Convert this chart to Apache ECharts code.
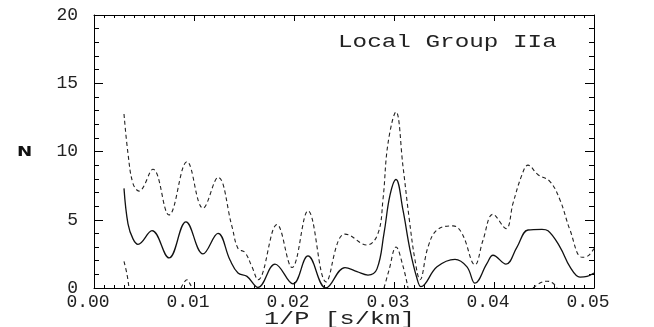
<!DOCTYPE html>
<html><head><meta charset="utf-8">
<script src="https://cdn.jsdelivr.net/npm/echarts@6/dist/echarts.min.js"></script>
<style>html,body{margin:0;padding:0;background:#fff}#c{width:654px;height:327px}</style>
</head><body><div id="c"></div>
<script>
// Mean curve (solid)
const meanX = [0.0030,0.0034,0.0039,0.0044,0.0058,0.0075,0.0092,0.0109,0.0124,0.0136,0.0144,0.0153,0.0164,0.0181,0.0199,0.0214,0.0232,0.0251,0.0263,0.0274,0.0283,0.0290,0.0296,0.0302,0.0309,0.0316,0.0323,0.0327,0.0343,0.0361,0.0373,0.0381,0.0393,0.0399,0.0412,0.0423,0.0434,0.0448,0.0454,0.0466,0.0476,0.0486,0.0493,0.0500];
const meanN = [7.3,4.7,3.6,3.2,4.2,2.2,4.85,2.5,4.0,2.05,1.1,0.85,0.05,1.75,0.3,2.35,0.0,1.5,1.2,0.95,1.4,4.0,6.8,7.95,5.7,2.8,0.7,0.1,1.55,2.1,1.55,0.35,1.8,2.4,1.75,3.0,4.25,4.3,4.2,3.0,1.55,0.8,0.85,1.1];
// Upper bound (dashed)
const upperX = [0.0030,0.0034,0.0039,0.0045,0.0059,0.0075,0.0093,0.0109,0.0124,0.0138,0.0144,0.0151,0.0158,0.0164,0.0183,0.0198,0.0214,0.0232,0.0244,0.0251,0.0273,0.0284,0.0289,0.0294,0.0302,0.0309,0.0315,0.0321,0.0326,0.0334,0.0343,0.0359,0.0368,0.0381,0.0389,0.0399,0.0412,0.0419,0.0428,0.0434,0.0444,0.0456,0.0466,0.0476,0.0488,0.0494,0.0500];
const upperN = [12.75,9.85,7.65,7.1,8.7,5.35,9.25,5.85,8.1,4.5,2.9,2.6,1.55,0.6,4.65,1.5,5.65,0.45,3.4,3.95,3.15,4.0,6.5,10.6,12.9,8.9,5.2,2.05,0.6,3.0,4.25,4.55,4.0,1.7,3.5,5.4,4.35,6.2,8.3,9.0,8.3,7.8,6.45,4.25,2.25,2.35,2.9];
// Lower bound (dashed), null = gap
const lowerX = [0.0030,0.0033,0.0035,0.0060,0.0087,0.0090,0.0093,0.0096,0.0098,0.0200,0.0290,0.0295,0.0302,0.0309,0.0314,0.0400,0.0439,0.0447,0.0453,0.0459,0.0463];
const lowerN = [1.95,1.0,0.0,null,0.0,0.4,0.6,0.3,0.0,null,0.0,1.3,3.0,1.6,0.0,null,0.0,0.4,0.5,0.35,0.0];
const xTicks = [0, 0.01, 0.02, 0.03, 0.04, 0.05];
const yTicks = [0, 5, 10, 15, 20];

const pairs = (xs, ys) => xs.map((x, i) => ys[i] === null ? [x, '-'] : [x, ys[i]]);
const font = 'Liberation Mono';
const chart = echarts.init(document.getElementById('c'), null, {renderer: 'canvas'});
const line = {color: '#000', width: 1};
function xAx(pos, labels) {
  return {
    type: 'value', position: pos, min: xTicks[0], max: xTicks[xTicks.length - 1], interval: 0.01,
    axisLine: {show: true, onZero: false, lineStyle: line},
    axisTick: {show: true, inside: true, length: 6, lineStyle: line},
    minorTick: {show: true, splitNumber: 10, length: 3, lineStyle: line},
    splitLine: {show: false}, minorSplitLine: {show: false},
    axisLabel: labels ? {fontFamily: font, fontSize: 18, color: '#222', margin: 5, padding: [0, 12, 0, 0],
      formatter: v => v.toFixed(2)} : {show: false}
  };
}
function yAx(pos, labels) {
  return {
    type: 'value', position: pos, min: yTicks[0], max: yTicks[yTicks.length - 1], interval: 5,
    axisLine: {show: true, onZero: false, lineStyle: line},
    axisTick: {show: true, inside: true, length: 9, lineStyle: line},
    minorTick: {show: true, splitNumber: 5, length: 5, lineStyle: line},
    splitLine: {show: false}, minorSplitLine: {show: false},
    axisLabel: labels ? {fontFamily: font, fontSize: 18, color: '#222', margin: 16} : {show: false}
  };
}
chart.setOption({
  animation: false,
  backgroundColor: '#fff',
  grid: {left: 94, right: 60, top: 15, bottom: 39},
  xAxis: [xAx('bottom', true), xAx('top', false)],
  yAxis: [yAx('left', true), yAx('right', false)],
  series: [
    {type: 'line', name: 'mean', data: pairs(meanX, meanN), smooth: 0.4, showSymbol: false,
      lineStyle: {color: '#111', width: 1.3}},
    {type: 'line', name: 'upper', data: pairs(upperX, upperN), smooth: 0.4, showSymbol: false,
      lineStyle: {color: '#222', width: 1.1, type: [4, 3]}},
    {type: 'line', name: 'lower', data: pairs(lowerX, lowerN), smooth: 0.4, showSymbol: false, connectNulls: false,
      lineStyle: {color: '#222', width: 1.1, type: [4, 3]}}
  ],
  graphic: [
    {type: 'text', x: 338, y: 42, scaleX: 1.35, style: {text: 'Local Group IIa', font: '18px "Liberation Mono"', fill: '#222', verticalAlign: 'middle'}},
    {type: 'text', x: 264, y: 319, scaleX: 1.4, style: {text: '1/P [s/km]', font: '18px "Liberation Mono"', fill: '#222', verticalAlign: 'middle'}},
    {type: 'text', x: 17, y: 152, scaleX: 1.3, style: {text: 'N', font: 'bold 14px "DejaVu Sans"', fill: '#111', verticalAlign: 'middle'}}
  ]
});
</script></body></html>
